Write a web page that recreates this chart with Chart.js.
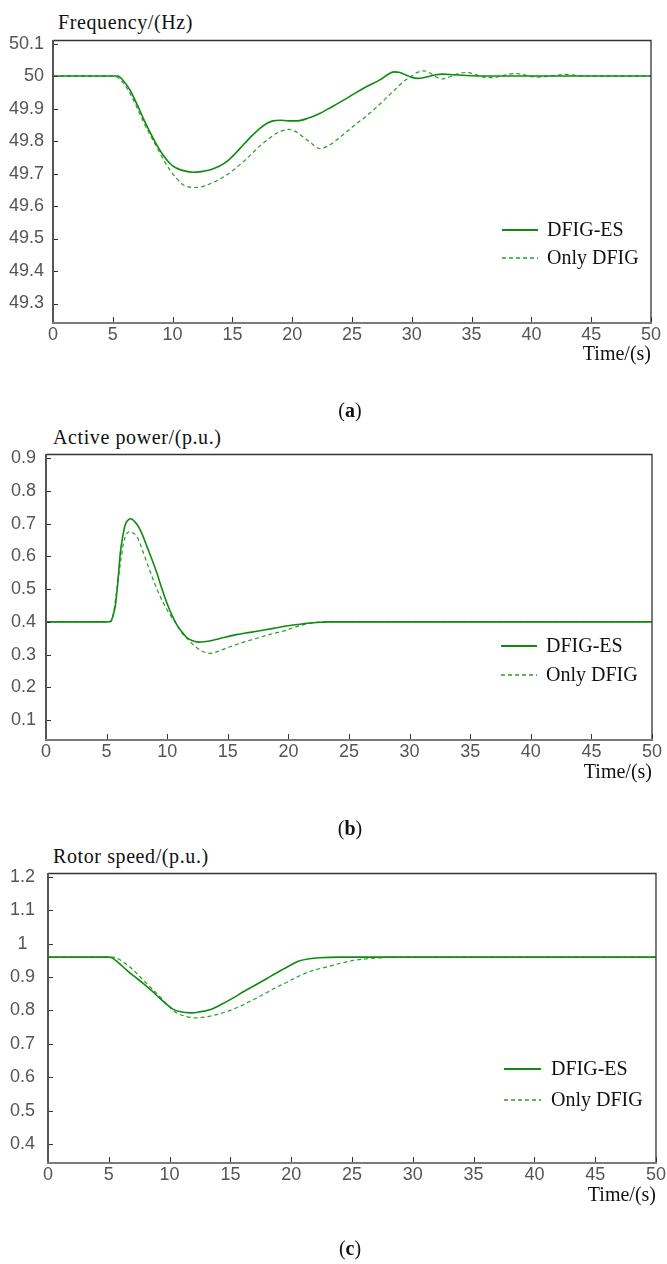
<!DOCTYPE html>
<html>
<head>
<meta charset="utf-8">
<script src="https://cdn.jsdelivr.net/npm/chart.js@4.4.1/dist/chart.umd.min.js"></script>
<style>
  html, body { margin: 0; padding: 0; background: #fff; }
  body { width: 667px; height: 1264px; position: relative; overflow: hidden; }
  canvas { position: absolute; left: 0; }
  .ttl { position: absolute; font-family: "Liberation Serif", "Times New Roman", serif; font-size: 20px; line-height: 24px; color: #111; letter-spacing: 0.6px; white-space: nowrap; }
  .cap { position: absolute; font-family: "Liberation Serif", "Times New Roman", serif; font-size: 20px; line-height: 24px; color: #111; width: 60px; text-align: center; }
</style>
</head>
<body>
<div class="ttl" style="left:58px; top:10px;">Frequency/(Hz)</div>
<canvas id="ca" width="667" height="400" style="top:0px"></canvas>
<div class="cap" style="left:320px; top:398px;">(<b>a</b>)</div>

<div class="ttl" style="left:53px; top:425px;">Active power/(p.u.)</div>
<canvas id="cb" width="667" height="400" style="top:420px"></canvas>
<div class="cap" style="left:320px; top:816px;">(<b>b</b>)</div>

<div class="ttl" style="left:53px; top:844px;">Rotor speed/(p.u.)</div>
<canvas id="cc" width="667" height="400" style="top:840px"></canvas>
<div class="cap" style="left:320px; top:1236px;">(<b>c</b>)</div>

<script>
// ---------------- DATA ----------------
const seriesNames = ["DFIG-ES", "Only DFIG"];
const xTicks = [0, 5, 10, 15, 20, 25, 30, 35, 40, 45, 50];

// (a) Frequency (Hz)
const freqTicks = [49.3, 49.4, 49.5, 49.6, 49.7, 49.8, 49.9, 50, 50.1];
const freqEsT = [0, 5, 5.4, 5.9, 6.44, 7.0, 7.55, 8.1, 8.67, 9.2, 9.78, 10.3, 10.9, 11.73, 12.4, 13.1, 13.8, 14.5, 15.2, 15.9, 16.6, 17.3, 17.9, 18.4, 19.0, 19.7, 20.4, 21.3, 22.3, 23.3, 24.3, 25.2, 26.2, 27.4, 28.0, 28.5, 29.0, 29.6, 30.0, 30.5, 31.2, 32.0, 32.6, 33.5, 35, 37, 50];
const freqEsV = [50, 50, 50.0, 49.985, 49.957, 49.915, 49.870, 49.828, 49.788, 49.757, 49.731, 49.717, 49.709, 49.704, 49.706, 49.711, 49.721, 49.736, 49.760, 49.788, 49.815, 49.839, 49.855, 49.862, 49.864, 49.862, 49.862, 49.870, 49.885, 49.905, 49.926, 49.946, 49.967, 49.990, 50.005, 50.013, 50.011, 50.002, 49.996, 49.993, 49.997, 50.004, 50.006, 50.004, 50.001, 50.0, 50.0];
const freqOnlyT = [0, 5, 5.3, 5.8, 6.44, 7.0, 7.55, 8.1, 8.67, 9.2, 9.78, 10.3, 10.9, 11.3, 11.73, 12.4, 13.1, 13.8, 14.5, 15.2, 15.9, 16.6, 17.3, 18.0, 18.7, 19.2, 19.7, 20.3, 20.9, 21.6, 22.3, 23.0, 23.7, 24.5, 25.4, 26.3, 27.1, 27.9, 28.7, 29.3, 29.9, 30.4, 31.0, 31.6, 32.0, 32.5, 33.2, 33.9, 34.6, 35.3, 36.0, 36.8, 37.7, 38.6, 39.5, 40.4, 41.6, 42.9, 44.0, 45, 50];
const freqOnlyV = [50, 50, 49.998, 49.982, 49.947, 49.905, 49.860, 49.820, 49.782, 49.745, 49.711, 49.686, 49.665, 49.659, 49.657, 49.659, 49.668, 49.680, 49.695, 49.714, 49.736, 49.760, 49.785, 49.806, 49.824, 49.832, 49.836, 49.829, 49.813, 49.793, 49.777, 49.785, 49.803, 49.827, 49.854, 49.880, 49.906, 49.934, 49.962, 49.983, 49.998, 50.010, 50.016, 50.008, 49.998, 49.991, 49.998, 50.008, 50.011, 50.005, 49.997, 49.995, 50.002, 50.008, 50.003, 49.997, 50.000, 50.005, 50.001, 50, 50];

// (b) Active power (p.u.)
const powerTicks = [0.1, 0.2, 0.3, 0.4, 0.5, 0.6, 0.7, 0.8, 0.9];
const powerEsT = [0, 5, 5.3, 5.5, 5.71, 5.9, 6.13, 6.35, 6.54, 6.8, 7.0, 7.3, 7.63, 8.0, 8.33, 8.75, 9.15, 9.55, 9.98, 10.4, 10.8, 11.2, 11.6, 12.1, 12.58, 13.2, 14.0, 14.64, 15.7, 16.84, 18.0, 19.04, 20.1, 21.2, 22.3, 23.4, 50];
const powerEsV = [0.4, 0.4, 0.401, 0.415, 0.447, 0.51, 0.610, 0.665, 0.697, 0.712, 0.715, 0.707, 0.691, 0.662, 0.630, 0.590, 0.549, 0.503, 0.457, 0.420, 0.391, 0.370, 0.353, 0.342, 0.338, 0.340, 0.346, 0.352, 0.361, 0.368, 0.375, 0.382, 0.389, 0.394, 0.398, 0.4, 0.4];
const powerOnlyT = [0, 5, 5.4, 5.57, 5.78, 5.99, 6.2, 6.4, 6.6, 6.87, 7.1, 7.5, 7.85, 8.19, 8.6, 9.01, 9.42, 9.83, 10.3, 10.8, 11.3, 11.89, 12.3, 12.72, 13.1, 13.55, 14.2, 15.2, 16.3, 17.4, 18.5, 19.6, 20.4, 21.2, 22.0, 22.9, 50];
const powerOnlyV = [0.4, 0.4, 0.402, 0.427, 0.48, 0.539, 0.595, 0.641, 0.665, 0.676, 0.673, 0.661, 0.630, 0.595, 0.553, 0.513, 0.478, 0.447, 0.418, 0.391, 0.362, 0.340, 0.325, 0.314, 0.307, 0.304, 0.310, 0.324, 0.338, 0.350, 0.362, 0.372, 0.382, 0.391, 0.397, 0.4, 0.4];

// (c) Rotor speed (p.u.)
const speedTicks = [0.4, 0.5, 0.6, 0.7, 0.8, 0.9, 1, 1.1, 1.2];
const speedEsT = [0, 5, 5.2, 5.8, 6.44, 7.1, 7.8, 8.5, 9.18, 9.7, 10.27, 10.9, 11.78, 12.5, 13.29, 14.2, 15.2, 16.1, 17.1, 18.0, 19.0, 19.9, 20.7, 21.5, 22.3, 24, 50];
const speedEsV = [0.96, 0.96, 0.959, 0.943, 0.922, 0.902, 0.882, 0.860, 0.837, 0.820, 0.804, 0.796, 0.793, 0.796, 0.802, 0.817, 0.837, 0.857, 0.877, 0.896, 0.917, 0.935, 0.949, 0.955, 0.958, 0.96, 0.96];
const speedOnlyT = [0, 5.2, 5.5, 6.0, 6.7, 7.8, 8.5, 9.18, 9.8, 10.4, 11.37, 12.2, 13.0, 13.8, 14.8, 15.75, 16.7, 17.67, 18.6, 19.6, 20.4, 21.2, 22.1, 23.1, 24.1, 25.1, 26.0, 27.0, 28.4, 50];
const speedOnlyV = [0.96, 0.96, 0.959, 0.950, 0.932, 0.892, 0.867, 0.842, 0.818, 0.797, 0.782, 0.778, 0.781, 0.787, 0.798, 0.812, 0.829, 0.847, 0.866, 0.884, 0.899, 0.912, 0.923, 0.932, 0.942, 0.950, 0.954, 0.957, 0.96, 0.96];

// ---------------- STYLE / HELPERS ----------------
const GREEN = "rgb(16,138,16)";
const GREEN_D = "rgb(40,156,40)";
const TICK_FONT = { family: "'Liberation Sans Narrow', 'Liberation Sans', Arial, sans-serif", size: 18 };
const SERIF = "'Liberation Serif', 'Times New Roman', serif";

function pts(t, v) { return t.map((x, i) => ({ x: x, y: v[i] })); }
function fmt(v) { return String(Number(v.toFixed(2))); }

const framePlugin = {
  id: "frame",
  afterDraw(chart) {
    const { ctx, chartArea: a, scales } = chart;
    ctx.save();
    // y ticks (inward)
    ctx.strokeStyle = "#333"; ctx.lineWidth = 1;
    scales.y.ticks.forEach(tk => {
      const y = Math.round(scales.y.getPixelForValue(tk.value)) + 0.5;
      ctx.beginPath(); ctx.moveTo(a.left, y); ctx.lineTo(a.left + 5, y); ctx.stroke();
    });
    scales.x.ticks.forEach(tk => {
      const x = Math.round(scales.x.getPixelForValue(tk.value)) + 0.5;
      ctx.beginPath(); ctx.moveTo(x, a.bottom); ctx.lineTo(x, a.bottom - 6); ctx.stroke();
    });
    // top and right border
    ctx.strokeStyle = "#333"; ctx.lineWidth = 1.3;
    ctx.beginPath(); ctx.moveTo(a.left, a.top + 0.5); ctx.lineTo(a.right, a.top + 0.5); ctx.lineTo(a.right, a.bottom); ctx.stroke();
    // left axis
    ctx.strokeStyle = "#555"; ctx.lineWidth = 2;
    ctx.beginPath(); ctx.moveTo(a.left, a.top); ctx.lineTo(a.left, a.bottom); ctx.stroke();
    // bottom axis
    ctx.strokeStyle = "#7a7a7a"; ctx.lineWidth = 2;
    ctx.beginPath(); ctx.moveTo(a.left - 1, a.bottom); ctx.lineTo(a.right + 1, a.bottom); ctx.stroke();
    ctx.restore();
  }
};

const legendPlugin = {
  id: "inLegend",
  afterDraw(chart, args, opts) {
    const { ctx } = chart;
    ctx.save();
    chart.data.datasets.forEach((ds, i) => {
      const y = opts.rows[i];
      ctx.strokeStyle = ds.borderColor;
      ctx.lineWidth = ds.borderWidth + 0.3;
      ctx.setLineDash(ds.borderDash || []);
      ctx.beginPath(); ctx.moveTo(opts.x0, y); ctx.lineTo(opts.x1, y); ctx.stroke();
      ctx.setLineDash([]);
      ctx.fillStyle = "#111";
      ctx.font = "20px " + SERIF;
      ctx.textBaseline = "middle";
      ctx.textAlign = "left";
      ctx.fillText(ds.label, opts.tx, y + 1);
    });
    ctx.restore();
  }
};

function makeChart(id, es, only, g) {
  return new Chart(document.getElementById(id), {
    type: "line",
    data: {
      datasets: [
        { label: seriesNames[0], data: es, borderColor: GREEN, borderWidth: 1.6, pointRadius: 0, cubicInterpolationMode: "monotone", fill: false },
        { label: seriesNames[1], data: only, borderColor: GREEN_D, borderWidth: 1.2, borderDash: [4, 3], pointRadius: 0, cubicInterpolationMode: "monotone", fill: false }
      ]
    },
    options: {
      responsive: false, animation: false, devicePixelRatio: 1,
      layout: { padding: { left: 0, top: g.top, right: g.right, bottom: 0 } },
      plugins: {
        legend: { display: false }, tooltip: { enabled: false }, title: { display: false },
        inLegend: g.legend
      },
      scales: {
        x: {
          type: "linear", min: 0, max: 50,
          grid: { display: false, drawTicks: false }, border: { display: false },
          afterBuildTicks: s => { s.ticks = xTicks.map(v => ({ value: v })); },
          afterFit: s => { s.height = g.xh; },
          ticks: { font: TICK_FONT, color: "#555", padding: 1, maxRotation: 0, autoSkip: false, callback: v => String(v) },
          title: { display: true, text: "Time/(s)", align: "end", color: "#111", font: { family: SERIF, size: 20 }, padding: { top: 0, bottom: g.tpb } }
        },
        y: {
          type: "linear", min: g.ymin, max: g.ymax,
          grid: { display: false, drawTicks: false }, border: { display: false },
          afterBuildTicks: s => { s.ticks = g.yTicks.map(v => ({ value: v })); },
          afterFit: s => { s.width = g.yw; },
          ticks: { font: TICK_FONT, color: "#555", padding: g.ypad, crossAlign: g.cross, callback: v => fmt(v) }
        }
      }
    },
    plugins: [framePlugin, legendPlugin]
  });
}

makeChart("ca", pts(freqEsT, freqEsV), pts(freqOnlyT, freqOnlyV), {
  top: 40, right: 16, xh: 77, yw: 53, ymin: 49.24, ymax: 50.111, yTicks: freqTicks, ypad: 9, cross: "near", tpb: 33,
  legend: { x0: 502, x1: 538, tx: 547, rows: [230, 258] }
});
makeChart("cb", pts(powerEsT, powerEsV), pts(powerOnlyT, powerOnlyV), {
  top: 34, right: 15, xh: 80, yw: 46, ymin: 0.039, ymax: 0.913, yTicks: powerTicks, ypad: 10, cross: "near", tpb: 35,
  legend: { x0: 501, x1: 537, tx: 546, rows: [226, 255] }
});
makeChart("cc", pts(speedEsT, speedEsV), pts(speedOnlyT, speedOnlyV), {
  top: 33, right: 10, xh: 77, yw: 48, ymin: 0.343, ymax: 1.212, yTicks: speedTicks, ypad: 13, cross: "center", tpb: 32,
  legend: { x0: 504, x1: 541, tx: 551, rows: [229, 260] }
});
</script>
</body>
</html>
